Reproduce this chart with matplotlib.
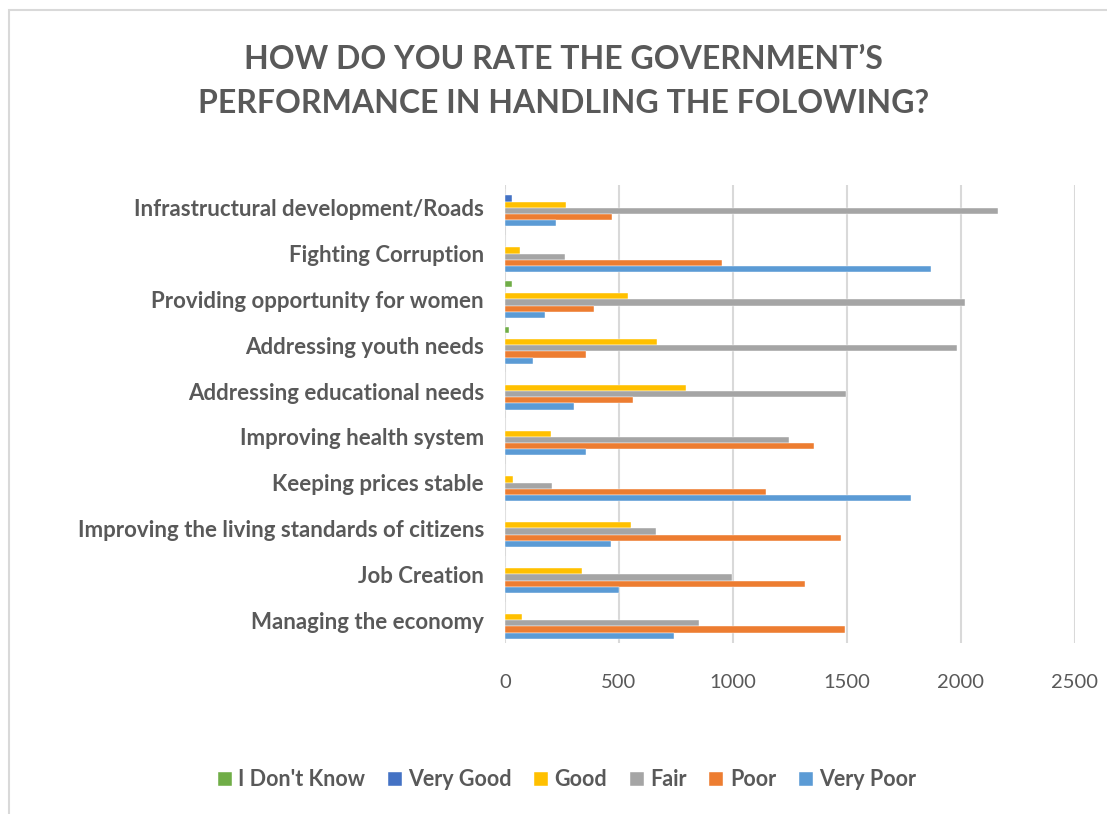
import matplotlib
matplotlib.use('Agg')
import matplotlib.pyplot as plt
import numpy as np
from matplotlib.patches import Rectangle

plt.rcParams['font.family'] = ['Lato', 'DejaVu Sans']

# Categories, bottom to top as drawn on the y axis
categorias = [
    'Managing the economy',
    'Job Creation',
    'Improving the living standards of citizens',
    'Keeping prices stable',
    'Improving health system',
    'Addressing educational needs',
    'Addressing youth needs',
    'Providing opportunity for women',
    'Fighting Corruption',
    'Infrastructural development/Roads',
]

nao_sei = [0, 0, 0, 0, 0, 0, 20, 33, 0, 0]
muito_bom = [0, 0, 0, 0, 0, 0, 0, 0, 0, 30]
bom = [74, 337, 553, 36, 201, 796, 669, 542, 67, 270]
razoavel = [853, 997, 665, 207, 1248, 1498, 1984, 2017, 266, 2161]
fraco = [1492, 1315, 1475, 1146, 1356, 561, 356, 392, 951, 472]
muito_fraco = [743, 500, 467, 1781, 357, 302, 125, 177, 1871, 223]

series = ["I Don't Know", 'Very Good', 'Good', 'Fair', 'Poor', 'Very Poor']
valores = [nao_sei, muito_bom, bom, razoavel, fraco, muito_fraco]
cores = ['#70AD47', '#4472C4', '#FFC000', '#A5A5A5', '#ED7D31', '#5B9BD5']

cinza = '#595959'

fig = plt.figure(figsize=(11.07, 8.14), dpi=100)
ax = fig.add_axes([0.456, 0.21, 0.515, 0.563])

y = np.arange(len(categorias))
h = 0.135
for k, (nome, vals, cor) in enumerate(zip(series, valores, cores)):
    # first series sits on top of each group
    offset = (2.5 - k) * h
    ax.barh(y + offset, vals, height=h, color=cor, label=nome,
            edgecolor='white', linewidth=0.3, zorder=3)

ax.set_ylim(-0.5, len(categorias) - 0.5)
ax.set_xlim(0, 2500)
ax.set_xticks([0, 500, 1000, 1500, 2000, 2500])
ax.set_yticks(y)
ax.set_yticklabels(categorias, fontsize=16, fontweight='bold', color=cinza)
ax.tick_params(axis='y', length=0, pad=15)
ax.tick_params(axis='x', length=0, pad=22, labelsize=14.5, labelcolor=cinza)
ax.grid(axis='x', color='#D9D9D9', linewidth=1.5, zorder=0)
for s in ax.spines.values():
    s.set_visible(False)

fig.text(0.509, 0.9, 'HOW DO YOU RATE THE GOVERNMENT\u2019S\nPERFORMANCE IN HANDLING THE FOLOWING?',
         ha='center', va='center', fontsize=23, fontweight='bold', color=cinza,
         linespacing=1.65)

fig.legend(loc='center', bbox_to_anchor=(0.512, 0.042), ncol=6, frameon=False,
           prop={'size': 15.5, 'weight': 'bold'}, labelcolor=cinza,
           handlelength=0.65, handleheight=0.65, handletextpad=0.3, columnspacing=1.05)

# light border of the chart area
fig.patches.append(Rectangle((9 / 1107, -0.1), 1.2, 0.1 + 804 / 814, transform=fig.transFigure,
                             fill=False, edgecolor='#D9D9D9', linewidth=1.5))

fig.savefig('out.png', dpi=100)
